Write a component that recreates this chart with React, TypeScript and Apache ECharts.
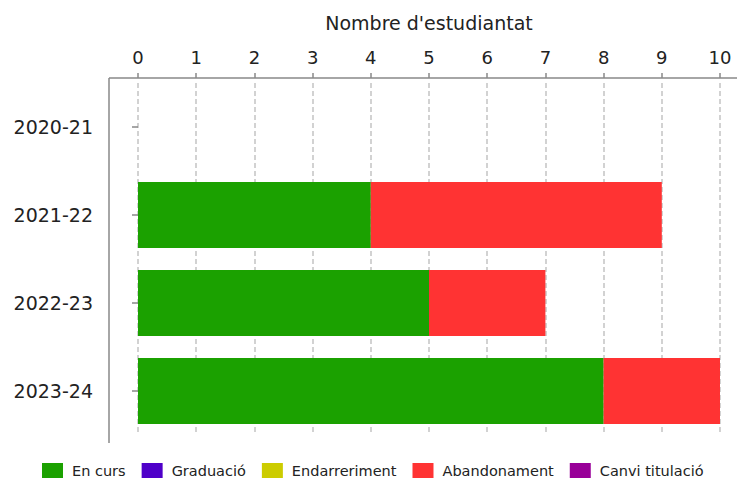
import React, { useEffect, useRef } from "react";
import * as echarts from "echarts";

const categories = ["2020-21", "2021-22", "2022-23", "2023-24"];
const seriesNames = ["En curs", "Graduació", "Endarreriment", "Abandonament", "Canvi titulació"];
const enCurs = [0, 4, 5, 8];
const graduacio = [0, 0, 0, 0];
const endarreriment = [0, 0, 0, 0];
const abandonament = [0, 5, 2, 2];
const canviTitulacio = [0, 0, 0, 0];
const colors = ["#1ba100", "#4f00c9", "#cccc00", "#ff3333", "#990099"];
const xMin = 0;
const xMax = 10;
const axisTitle = "Nombre d'estudiantat";

const FONT = "DejaVu Sans";

export default function App() {
  const ref = useRef<HTMLDivElement>(null);
  useEffect(() => {
    if (!ref.current) return;
    const chart = echarts.init(ref.current, null, { renderer: "svg" });
    const values = [enCurs, graduacio, endarreriment, abandonament, canviTitulacio];
    chart.setOption({
      animation: false,
      backgroundColor: "#ffffff",
      grid: { left: 138, right: 17, top: 83, height: 352 },
      xAxis: {
        type: "value",
        position: "top",
        min: xMin,
        max: xMax,
        interval: 1,
        offset: 5,
        name: axisTitle,
        nameLocation: "middle",
        nameGap: 46,
        nameTextStyle: { fontFamily: FONT, fontSize: 19, color: "#222" },
        axisLine: { show: false },
        axisTick: { show: true, length: 5, lineStyle: { color: "#888", width: 1.5 } },
        axisLabel: { fontFamily: FONT, fontSize: 18, color: "#222", margin: 12 },
        splitLine: { show: true, lineStyle: { color: "#c4c4c4", type: [5, 3], width: 1.5 } },
      },
      yAxis: {
        type: "category",
        data: categories,
        inverse: true,
        offset: 29,
        axisLine: { show: false },
        axisTick: { show: true, alignWithLabel: true, length: 6, lineStyle: { color: "#888", width: 1.5 } },
        axisLabel: { fontFamily: FONT, fontSize: 19, color: "#222", margin: 16 },
        splitLine: { show: false },
      },
      legend: {
        left: 37,
        top: 458,
        itemWidth: 21,
        itemHeight: 15,
        itemGap: 16,
        icon: "rect",
        data: seriesNames,
        textStyle: { fontFamily: FONT, fontSize: 14.5, color: "#222", padding: [0, 0, 0, 4] },
      },
      graphic: [
        { type: "line", shape: { x1: 109, y1: 78, x2: 737, y2: 78 }, style: { stroke: "#888", lineWidth: 1.5 }, silent: true },
        { type: "line", shape: { x1: 109, y1: 78, x2: 109, y2: 443 }, style: { stroke: "#888", lineWidth: 1.5 }, silent: true },
      ],
      series: seriesNames.map((name, i) => ({
        name,
        type: "bar",
        stack: "total",
        barWidth: 66,
        data: values[i].map((v) => (v === 0 ? "-" : v)),
        itemStyle: { color: colors[i] },
      })),
    });
    return () => chart.dispose();
  }, []);
  return <div ref={ref} style={{ position: "absolute", left: 0, top: 0, width: 737, height: 480 }} />;
}
